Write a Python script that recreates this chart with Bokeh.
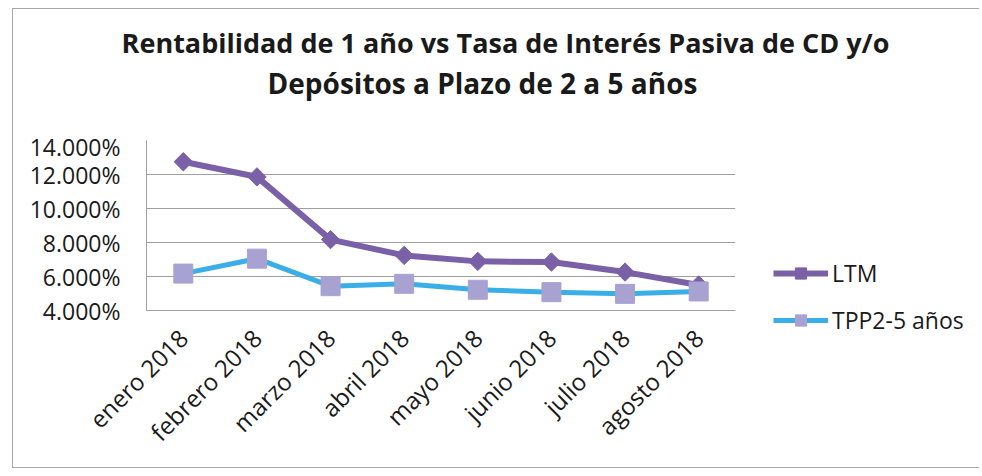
from math import pi
from bokeh.plotting import figure
from bokeh.layouts import row, column
from bokeh.models import (FactorRange, Range1d, FixedTicker, NumeralTickFormatter,
                          Legend, LegendItem, Label, ColumnDataSource)
from bokeh.embed import file_html
from bokeh.resources import INLINE

months = ["enero 2018", "febrero 2018", "marzo 2018", "abril 2018",
          "mayo 2018", "junio 2018", "julio 2018", "agosto 2018"]
ltm = [0.1275, 0.1186, 0.0817, 0.0724, 0.0689, 0.0685, 0.0626, 0.0550]
tpp = [0.0617, 0.0705, 0.0543, 0.0557, 0.0522, 0.0508, 0.0498, 0.0512]
y_ticks = [0.04, 0.06, 0.08, 0.10, 0.12, 0.14]
title_lines = ["Rentabilidad de 1 año vs Tasa de Interés Pasiva de CD y/o",
               "Depósitos a Plazo de 2 a 5 años"]
series_names = ["LTM", "TPP2-5 años"]

FONT = "Open Sans"
LTM_COLOR = "#7a61a7"
TPP_LINE = "#3aaee6"
TPP_MARK = "#a8a2d2"
src = ColumnDataSource(dict(m=months, ltm=ltm, tpp=tpp))


def blank(fig):
    fig.axis.visible = False
    fig.grid.visible = False
    fig.outline_line_color = None
    fig.background_fill_color = "white"
    fig.border_fill_color = "white"
    fig.frame_align = False


# ---- title strip ----
TW, TH = 966, 121
t = figure(x_range=Range1d(0, 1), y_range=Range1d(0, 1), width=TW, height=TH,
           output_backend="svg", toolbar_location=None, min_border=0)
blank(t)
for txt, sx, sy, fs in [(title_lines[0], 492, 88, "27px"), (title_lines[1], 469, 48, "28px")]:
    t.add_layout(Label(x=sx, y=sy, x_units="screen", y_units="screen",
                       text=txt, text_align="center", text_baseline="alphabetic",
                       text_font=FONT, text_font_style="bold",
                       text_font_size=fs, text_color="#1a1a1a"))

# ---- main chart ----
H = 337
PW = 727
p = figure(x_range=FactorRange(*months, range_padding=0),
           y_range=Range1d(0.04, 0.14),
           width=PW, height=H, output_backend="svg", toolbar_location=None,
           min_border_left=133, min_border_right=5, min_border_top=10,
           min_border_bottom=157)
p.background_fill_color = "white"
p.border_fill_color = "white"
p.outline_line_color = None
p.frame_align = False

p.yaxis.ticker = FixedTicker(ticks=y_ticks)
p.yaxis.formatter = NumeralTickFormatter(format="0.000%")
p.yaxis.major_label_text_font = FONT
p.yaxis.major_label_text_font_size = "23px"
p.yaxis.major_label_text_color = "#1a1a1a"
p.yaxis.major_tick_line_color = None
p.yaxis.minor_tick_line_color = None
p.yaxis.axis_line_color = "#a0a0a0"
p.yaxis.major_label_standoff = 20

p.xaxis.major_label_orientation = pi / 4
p.xaxis.major_label_text_font = FONT
p.xaxis.major_label_text_font_size = "24px"
p.xaxis.major_label_text_color = "#1a1a1a"
p.xaxis.major_tick_line_color = None
p.xaxis.axis_line_color = "#a0a0a0"
p.xaxis.major_label_standoff = 17

p.xgrid.grid_line_color = None
p.ygrid.grid_line_color = "#a0a0a0"
p.ygrid.grid_line_width = 1

p.line("m", "ltm", source=src, line_color=LTM_COLOR, line_width=6, line_join="round")
p.scatter("m", "ltm", source=src, marker="square", angle=pi / 4, size=13,
          fill_color=LTM_COLOR, line_color=LTM_COLOR)
p.line("m", "tpp", source=src, line_color=TPP_LINE, line_width=5, line_join="round")
p.scatter("m", "tpp", source=src, marker="square", size=19,
          fill_color=TPP_MARK, line_color=TPP_MARK)

# ---- legend area (series re-plotted outside its visible range, keys only) ----
q = figure(x_range=FactorRange(*months, range_padding=0), y_range=Range1d(1, 2),
           width=TW - PW, height=H, output_backend="svg", toolbar_location=None,
           min_border=0)
blank(q)
k1 = q.line("m", "ltm", source=src, line_color=LTM_COLOR, line_width=6)
k1m = q.scatter("m", "ltm", source=src, marker="square", angle=pi / 4, size=13,
                fill_color=LTM_COLOR, line_color=LTM_COLOR)
k2 = q.line("m", "tpp", source=src, line_color=TPP_LINE, line_width=5)
k2m = q.scatter("m", "tpp", source=src, marker="square", size=19,
                fill_color=TPP_MARK, line_color=TPP_MARK)
legend = Legend(items=[LegendItem(label=series_names[0], renderers=[k1, k1m]),
                       LegendItem(label=series_names[1], renderers=[k2, k2m])],
                location=(33, 131), orientation="vertical",
                glyph_width=55, glyph_height=28, label_standoff=4, spacing=15,
                padding=0, margin=0, border_line_color=None,
                background_fill_alpha=0,
                label_text_font=FONT, label_text_font_size="23px",
                label_text_color="#1a1a1a")
q.add_layout(legend, "center")

layout = column(t, row(p, q, spacing=0), spacing=0)
layout.styles = {"margin-left": "12px", "margin-top": "8px",
                 "border-left": "1px solid #a8a8a8",
                 "border-top": "1px solid #a8a8a8", "border-bottom": "1px solid #a8a8a8"}

open("out.html", "w").write(file_html(layout, INLINE))
